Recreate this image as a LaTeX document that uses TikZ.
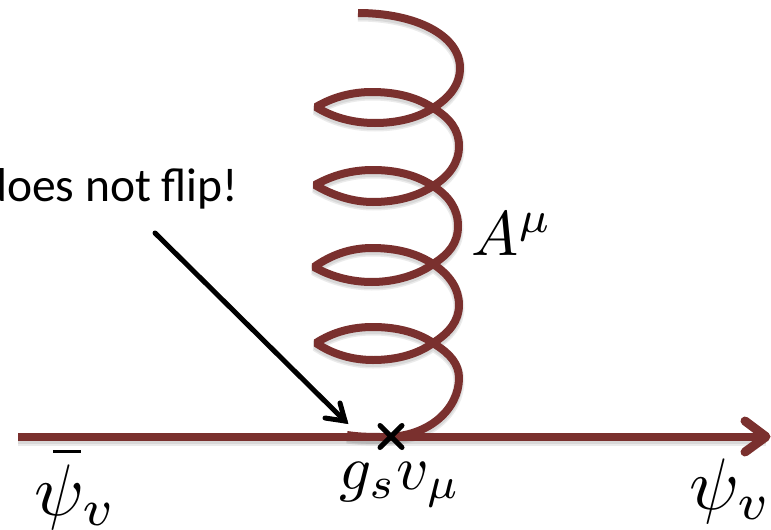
\documentclass[tikz,border=0pt]{standalone}
\usepackage{fontspec}
\setmainfont{Carlito}
\usetikzlibrary{arrows.meta}
\definecolor{gluon}{HTML}{7A302E}
\tikzset{
  coilline/.style={draw=gluon,line width=8pt,line join=bevel},
  fermion/.style={draw=gluon,line width=8pt},
  softshadow/.style={draw=black,opacity=.08,line join=bevel},
  pointer/.style={draw=black,line width=5pt,line cap=round},
  crossmark/.style={draw=black,line width=5pt,line cap=round},
  mathlabel/.style={inner sep=0pt}
}
\def\coilpath{
  (358,13) .. controls (415,13) and (460,35) .. (460,68)
  .. controls (460,85) and (449,98) .. (433,108)
  .. controls (418,118) and (397,123) .. (375,123)
  .. controls (352,123) and (332,117) .. (316,107)
  .. controls (333,97) and (352,92) .. (372,92)
  .. controls (398,92) and (418,98) .. (433,108)
  .. controls (450,118) and (459,130) .. (459,146)
  .. controls (459,163) and (449,176) .. (433,186)
  .. controls (418,196) and (397,202) .. (373,202)
  .. controls (352,202) and (332,195) .. (315,185)
  .. controls (333,175) and (352,170) .. (373,170)
  .. controls (398,170) and (418,176) .. (433,186)
  .. controls (449,196) and (458,209) .. (458,226)
  .. controls (458,243) and (449,254) .. (433,264)
  .. controls (418,275) and (395,282) .. (372,282)
  .. controls (350,282) and (330,276) .. (314,267)
  .. controls (331,255) and (350,248) .. (372,248)
  .. controls (398,248) and (418,254) .. (433,264)
  .. controls (450,275) and (459,289) .. (459,305)
  .. controls (459,321) and (449,333) .. (433,343)
  .. controls (418,354) and (397,360) .. (373,360)
  .. controls (352,360) and (332,354) .. (316,343)
  .. controls (333,332) and (352,327) .. (373,327)
  .. controls (398,327) and (420,333) .. (436,345)
  .. controls (450,354) and (459,364) .. (459,378)
  .. controls (459,408) and (430,437) .. (385,437)
  .. controls (372,437) and (360,437) .. (347,435)
}
\begin{document}
\begin{tikzpicture}[x=1pt,y=-1pt]
\useasboundingbox (0,0) rectangle (771,530);
\clip (0,0) rectangle (771,530);
\fill[white] (0,0) rectangle (771,530);
% named anchors
\coordinate (lineL) at (18,436.7);
\coordinate (lineR) at (766,436.7);
\coordinate (headU) at (745,421);
\coordinate (headD) at (745,452);
\coordinate (ptrA) at (155,233);
\coordinate (ptrB) at (345,421);
\coordinate (ptrU) at (340,403);
\coordinate (ptrD) at (325,418);
\coordinate (barL) at (53,451.5);
\coordinate (barR) at (81,451.5);
% soft shadows
\draw[softshadow,line width=12pt] ([yshift=-3pt]lineL) -- ([yshift=-3pt]lineR);
\draw[softshadow,line width=9pt] ([yshift=-3pt]lineL) -- ([yshift=-3pt]lineR);
\begin{scope}[shift={(0,3)}]
\draw[softshadow,line width=11pt] \coilpath;
\draw[softshadow,line width=8pt] \coilpath;
\end{scope}
% fermion line and arrowhead
\draw[fermion] (lineL) -- (lineR);
\draw[fermion,line width=9pt,line cap=round,line join=round] (headU) -- (lineR) -- (headD);
% gluon coil
\draw[coilline] \coilpath;
% pointer
\draw[pointer] (ptrA) -- (ptrB);
\draw[pointer,line join=miter] (ptrU) -- (ptrB) -- (ptrD);
% vertex cross
\node[inner sep=0pt,minimum size=0pt] (vertex) at (391,436.5) {};
\draw[crossmark] ([shift={(-11,-11)}]vertex.center) -- ([shift={(11,11)}]vertex.center);
\draw[crossmark] ([shift={(-11,11)}]vertex.center) -- ([shift={(11,-11)}]vertex.center);
% labels
\node[anchor=base west,inner sep=0pt,font=\fontsize{47.5}{52}\selectfont] (flip) at (-18,201) {does not flip!};
\node[mathlabel,anchor=base west,scale=6.3] (amu) at (470,255) {$A^\mu$};
\node[mathlabel,anchor=base west,scale=6.3] (gsv) at (338,489) {$g_s v_\mu$};
\node[mathlabel,anchor=base west,scale=7.3] (psibar) at (33,515) {$\psi_v$};
\draw[draw=black,line width=3pt] (barL) -- (barR);
\node[mathlabel,anchor=base west,scale=7.3] (psi) at (688,509) {$\psi_v$};
\end{tikzpicture}
\end{document}
